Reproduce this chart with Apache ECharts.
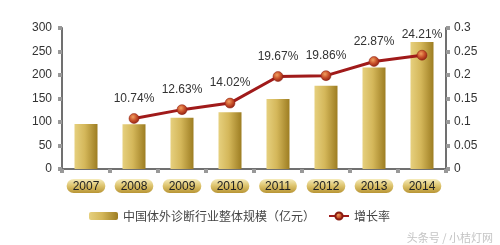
<!DOCTYPE html>
<html>
<head>
<meta charset="utf-8">
<script src="https://cdn.jsdelivr.net/npm/echarts@6/dist/echarts.min.js"></script>
<style>html,body{margin:0;padding:0;background:#fff}#c{width:500px;height:245px}</style>
</head>
<body>
<div id="c"></div>
<script>
const years = ['2007','2008','2009','2010','2011','2012','2013','2014'];
const scale = [96, 95, 109, 121, 149, 177, 216, 270];
const growth = [null, 0.1074, 0.1263, 0.1402, 0.1967, 0.1986, 0.2287, 0.2421];
const barName = '中国体外诊断行业整体规模（亿元）';
const lineName = '增长率';
const leftTicks = {min: 0, max: 300, interval: 50};
const rightTicks = {min: 0, max: 0.3, interval: 0.05};

const chart = echarts.init(document.getElementById('c'), null, {renderer: 'canvas'});
const G = echarts.graphic;
const barGrad = new G.LinearGradient(0, 0, 1, 0, [
  {offset: 0, color: '#e6d07e'},
  {offset: 0.45, color: '#d4b75a'},
  {offset: 1, color: '#9d7d22'}
]);
const pillGrad = new G.LinearGradient(0, 0, 0, 1, [
  {offset: 0, color: '#f6ecbc'},
  {offset: 0.5, color: '#dcc26a'},
  {offset: 1, color: '#b89535'}
]);
const dotGrad = new G.RadialGradient(0.4, 0.35, 0.7, [
  {offset: 0, color: '#f0a060'},
  {offset: 0.5, color: '#c8502a'},
  {offset: 1, color: '#8a1c10'}
]);
const axisCol = '#707070';
const font = '"Liberation Sans", Arial, sans-serif';
chart.setOption({
  animation: false,
  textStyle: {fontFamily: font},
  grid: {left: 62, right: 54, top: 28, bottom: 76},
  legend: [
    {data: [barName], left: 84, top: 205, itemWidth: 29, itemHeight: 8, itemGap: 10,
     textStyle: {fontSize: 12, color: '#444', fontFamily: '"Noto Sans CJK SC", sans-serif'}},
    {data: [lineName], left: 323, top: 205, itemWidth: 20, itemHeight: 9,
     textStyle: {fontSize: 12, color: '#444', fontFamily: '"Noto Sans CJK SC", sans-serif'}}
  ],
  xAxis: {
    type: 'category', data: years, boundaryGap: true,
    axisLine: {lineStyle: {color: axisCol, width: 2}},
    axisTick: {show: true, length: 4, lineStyle: {color: '#999', width: 4}},
    axisLabel: {
      margin: 10, fontSize: 12, color: '#222', fontFamily: font,
      backgroundColor: pillGrad, borderRadius: 7, padding: [1, 6, 0, 6], lineHeight: 13
    }
  },
  yAxis: [
    {type: 'value', min: leftTicks.min, max: leftTicks.max, interval: leftTicks.interval,
     axisLine: {show: true, lineStyle: {color: axisCol, width: 2}},
     axisTick: {show: true, length: 4, lineStyle: {color: '#999', width: 4}},
     splitLine: {show: false},
     axisLabel: {fontSize: 12, color: '#333', margin: 10}},
    {type: 'value', min: rightTicks.min, max: rightTicks.max, interval: rightTicks.interval,
     axisLine: {show: true, lineStyle: {color: axisCol, width: 2}},
     axisTick: {show: true, length: 4, lineStyle: {color: '#999', width: 4}},
     splitLine: {show: false},
     axisLabel: {fontSize: 12, color: '#333', margin: 8}}
  ],
  series: [
    {name: barName, type: 'bar', data: scale, barWidth: 23, yAxisIndex: 0,
     itemStyle: {color: barGrad}},
    {name: lineName, type: 'line', data: growth, yAxisIndex: 1,
     symbol: 'circle', symbolSize: 10, connectNulls: false,
     lineStyle: {color: '#a01a1a', width: 3},
     itemStyle: {color: dotGrad, borderColor: '#8a1c10', borderWidth: 0.5},
     label: {show: true, position: 'top', distance: 9, fontSize: 12, color: '#333',
       formatter: p => (p.value * 100).toFixed(2) + '%'}}
  ],
  graphic: [
    {type: 'text', right: 7, bottom: 2, style: {text: '头条号 / 小桔灯网', fill: '#c4c4c4', fontSize: 11,
      fontFamily: '"Noto Sans CJK SC", sans-serif'}}
  ]
});
</script>
</body>
</html>
